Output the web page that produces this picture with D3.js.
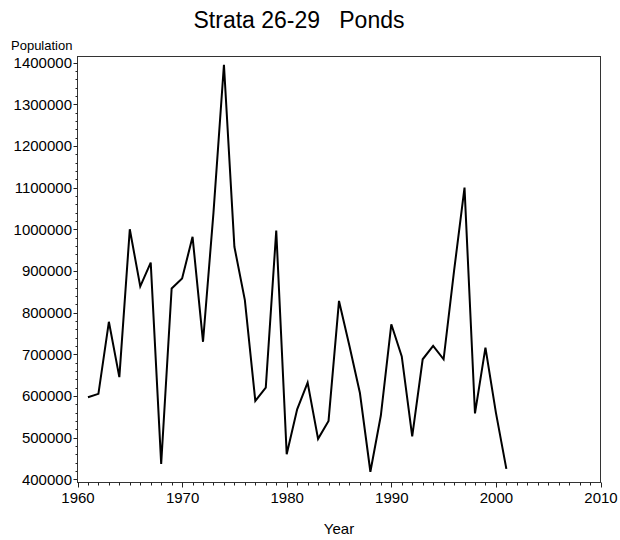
<!DOCTYPE html>
<html>
<head>
<meta charset="utf-8">
<script src="https://cdn.jsdelivr.net/npm/d3@7"></script>
<style>
  html, body { margin: 0; padding: 0; background: #fff; }
  text { font-family: "Liberation Sans", Arial, sans-serif; fill: #000; }
</style>
</head>
<body>
<svg id="chart" width="620" height="540"></svg>
<script>
const years = [1961,1962,1963,1964,1965,1966,1967,1968,1969,1970,
               1971,1972,1973,1974,1975,1976,1977,1978,1979,1980,
               1981,1982,1983,1984,1985,1986,1987,1988,1989,1990,
               1991,1992,1993,1994,1995,1996,1997,1998,1999,2000,2001];
const population = [597000,605000,778000,645000,1000000,863000,920000,437000,858000,882000,
                     982000,730000,1040000,1395000,958000,830000,588000,620000,997000,460000,
                     568000,632000,497000,540000,828000,720000,607000,418000,553000,772000,
                     695000,503000,688000,720000,688000,900000,1100000,558000,716000,560000,425000];
const xTicks = [1960,1970,1980,1990,2000,2010];
const yTicks = [400000,500000,600000,700000,800000,900000,1000000,1100000,1200000,1300000,1400000];
const titleText = "Strata 26-29\u00a0\u00a0\u00a0Ponds";
const xLabel = "Year";
const yLabel = "Population";

const svg = d3.select("#chart");
const pLeft = 77, pRight = 601, pTop = 56, pBottom = 483;

const x = d3.scaleLinear().domain([1960, 2010]).range([pLeft + 0.5, pRight - 0.5]);
const y = d3.scaleLinear().domain([391000, 1416000]).range([pBottom, pTop]);

// frame
svg.append("rect")
  .attr("x", pLeft + 0.5).attr("y", pTop + 0.5)
  .attr("width", pRight - pLeft - 1).attr("height", pBottom - pTop - 1)
  .attr("fill", "none").attr("stroke", "#333").attr("stroke-width", 1);

// minor ticks
const xMinor = d3.range(1960, 2011, 1);
svg.append("g").attr("transform", `translate(0,${pBottom - 0.5})`)
  .selectAll("line").data(xMinor).join("line")
  .attr("x1", d => Math.round(x(d)) + 0.5).attr("x2", d => Math.round(x(d)) + 0.5)
  .attr("y1", 0).attr("y2", d => d % 10 === 0 ? 5 : 3)
  .attr("stroke", "#222").attr("stroke-width", 1);

const yMinor = d3.range(400000, 1400001, 20000);
svg.append("g").attr("transform", `translate(${pLeft + 0.5},0)`)
  .selectAll("line").data(yMinor).join("line")
  .attr("y1", d => Math.round(y(d)) + 0.5).attr("y2", d => Math.round(y(d)) + 0.5)
  .attr("x1", 0).attr("x2", d => d % 100000 === 0 ? -4 : -2)
  .attr("stroke", "#222").attr("stroke-width", 1);

// axis labels via d3 axes (no domain)
const xAxis = svg.append("g").attr("transform", `translate(0,${pBottom})`)
  .call(d3.axisBottom(x).tickValues(xTicks).tickFormat(d3.format("d")).tickSize(0).tickPadding(9));
xAxis.select(".domain").remove();
xAxis.selectAll("text").style("font-size", "15px").style("font-family", "'Liberation Sans', Arial, sans-serif");

const yAxis = svg.append("g").attr("transform", `translate(${pLeft},0)`)
  .call(d3.axisLeft(y).tickValues(yTicks).tickFormat(d3.format("d")).tickSize(0).tickPadding(5));
yAxis.select(".domain").remove();
yAxis.selectAll("text").style("font-size", "15px").style("font-family", "'Liberation Sans', Arial, sans-serif");

// line
const line = d3.line().x((d, i) => x(years[i])).y(d => y(d));
svg.append("path").datum(population)
  .attr("d", line).attr("fill", "none")
  .attr("stroke", "#000").attr("stroke-width", 2).attr("stroke-linejoin", "miter");

// titles
svg.append("text").attr("x", 299).attr("y", 28).attr("text-anchor", "middle")
  .style("font-size", "23px").style("white-space", "pre").text(titleText);
svg.append("text").attr("x", 339).attr("y", 534).attr("text-anchor", "middle")
  .style("font-size", "15px").text(xLabel);
svg.append("text").attr("x", 11).attr("y", 50)
  .style("font-size", "13px").text(yLabel);
</script>
</body>
</html>
